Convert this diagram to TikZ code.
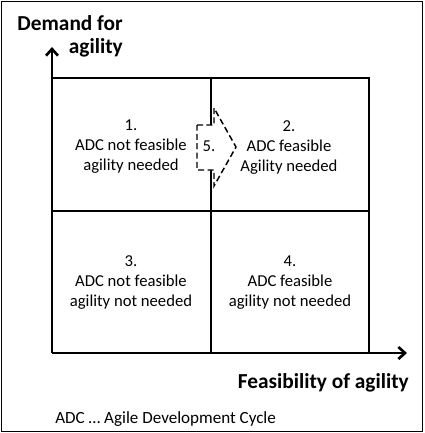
\documentclass[tikz,border=0pt]{standalone}
\usepackage{fontspec}
\setmainfont{Carlito}
\usetikzlibrary{arrows.meta}

\begin{document}
\begin{tikzpicture}[x=0.75pt,y=0.75pt,yscale=-1,xscale=1,
  cell/.style={align=center,inner sep=0.75pt,font=\fontsize{12.5}{15}\selectfont},
  axislabel/.style={inner sep=0.75pt,font=\fontsize{16}{17.5}\selectfont\bfseries},
  axis/.style={line width=2pt,-{Straight Barb[length=5pt,width=9pt]}},
  gridline/.style={line width=1.2pt}]
\useasboundingbox (0,0) rectangle (425,433);

%Shape: Rectangle [frame]
\draw[line width=0.75pt] (1,1) rectangle (422,431);

%Shape: Grid [four quadrants]
\draw[gridline] (52,78) -- (369,78) -- (369,353);
\draw[gridline] (211,78) -- (211,353);
\draw[gridline] (52,211) -- (369,211);

%Straight Lines [axes]
\coordinate (o) at (52,353);
\coordinate (ytip) at (52,47);
\coordinate (xtip) at (407,353);
\draw[axis] (o) -- (ytip);
\draw[axis] (o) -- (xtip);

%Shape: Right Arrow [dashed]
\draw[line width=1.1pt,fill=white,dash pattern=on 4.5pt off 2.5pt] (197,125) -- (214,125) -- (214,108) -- (236,147) -- (214,186) -- (214,170) -- (197,170) -- cycle;

% Text Node
\node[cell] (q1) at (131,146.5) {1.\\ADC not feasible\\agility needed};
% Text Node
\node[cell] (q2) at (289,148) {2.\\ADC feasible\\Agility needed};
% Text Node
\node[cell] (q3) at (131,283) {3.\\ADC not feasible\\agility not needed};
% Text Node
\node[cell] (q4) at (290,283) {4.\\ADC feasible\\agility not needed};
% Text Node
\node[cell] (q5) at (209,146) {5.};

% Text Node
\node[axislabel,align=right,anchor=north east] (ylabel) at (124,14) {Demand for\\agility};
% Text Node
\node[axislabel,anchor=base east] (xlabel) at (410,388) {Feasibility of agility};
% Text Node
\node[cell,font=\fontsize{12.8}{15}\selectfont,anchor=base west] (note) at (54,423) {ADC … Agile Development Cycle};

\end{tikzpicture}
\end{document}
